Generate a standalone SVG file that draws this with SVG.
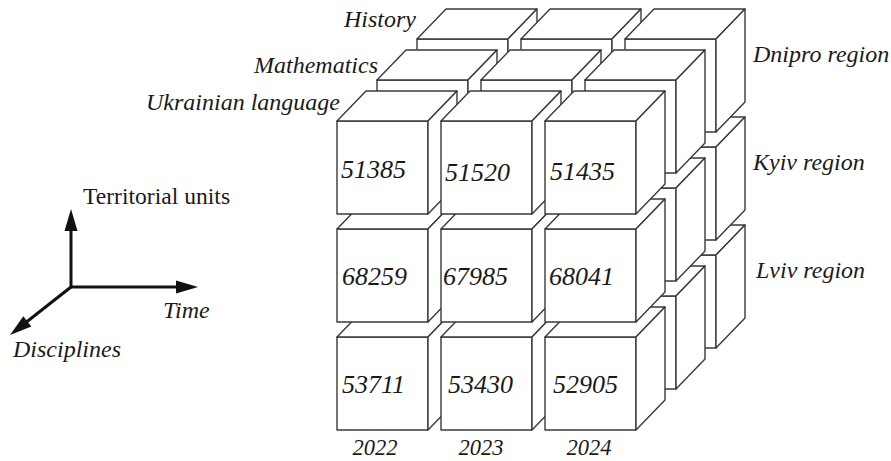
<svg xmlns="http://www.w3.org/2000/svg" xmlns:xlink="http://www.w3.org/1999/xlink" width="891" height="461" viewBox="0 0 891 461">
<style>
.face{fill:#ffffff;stroke:#3a3a3a;stroke-width:1.4;stroke-linejoin:round}
.lbl{font-family:'Liberation Serif','DejaVu Serif',serif;font-style:italic;font-size:24px;fill:#1a1a1a}
.yr{font-family:'Liberation Serif','DejaVu Serif',serif;font-style:italic;font-size:22.5px;fill:#1a1a1a}
.num{font-family:'Liberation Serif','DejaVu Serif',serif;font-style:italic;font-size:26px;fill:#1a1a1a}
.up{font-family:'Liberation Serif','DejaVu Serif',serif;font-size:23.6px;fill:#1a1a1a}
.axis{stroke:#111;stroke-width:3;fill:none}
</style>
<defs>
<g id="cube">
<rect class="face" x="0" y="0" width="91" height="93"/>
<polygon class="face" points="0,0 29,-30 120,-30 91,0"/>
<polygon class="face" points="91,0 120,-30 120,63 91,93"/>
</g>
<marker id="arr" markerUnits="userSpaceOnUse" markerWidth="30" markerHeight="20" viewBox="-2 -10 30 20" refX="12" refY="0" orient="auto">
<path d="M0,-6.5 L22,0 L0,6.5 Z" fill="#111"/>
</marker>
</defs>

<!-- History layer (L=2) -->
<g id="history-layer">
<g id="h-r3-c1"><use xlink:href="#cube" href="#cube" x="417" y="255"/></g>
<g id="h-r3-c2"><use xlink:href="#cube" href="#cube" x="521" y="255"/></g>
<g id="h-r3-c3"><use xlink:href="#cube" href="#cube" x="625" y="255"/></g>
<g id="h-r2-c1"><use xlink:href="#cube" href="#cube" x="417" y="147"/></g>
<g id="h-r2-c2"><use xlink:href="#cube" href="#cube" x="521" y="147"/></g>
<g id="h-r2-c3"><use xlink:href="#cube" href="#cube" x="625" y="147"/></g>
<g id="h-r1-c1"><use xlink:href="#cube" href="#cube" x="417" y="39"/></g>
<g id="h-r1-c2"><use xlink:href="#cube" href="#cube" x="521" y="39"/></g>
<g id="h-r1-c3"><use xlink:href="#cube" href="#cube" x="625" y="39"/></g>
</g>

<!-- Mathematics layer (L=1) -->
<g id="math-layer">
<g id="m-r3-c1"><use xlink:href="#cube" href="#cube" x="377" y="296"/></g>
<g id="m-r3-c2"><use xlink:href="#cube" href="#cube" x="481" y="296"/></g>
<g id="m-r3-c3"><use xlink:href="#cube" href="#cube" x="585" y="296"/></g>
<g id="m-r2-c1"><use xlink:href="#cube" href="#cube" x="377" y="188"/></g>
<g id="m-r2-c2"><use xlink:href="#cube" href="#cube" x="481" y="188"/></g>
<g id="m-r2-c3"><use xlink:href="#cube" href="#cube" x="585" y="188"/></g>
<g id="m-r1-c1"><use xlink:href="#cube" href="#cube" x="377" y="80"/></g>
<g id="m-r1-c2"><use xlink:href="#cube" href="#cube" x="481" y="80"/></g>
<g id="m-r1-c3"><use xlink:href="#cube" href="#cube" x="585" y="80"/></g>
</g>

<!-- Ukrainian language layer (L=0) -->
<g id="ukr-layer">
<g id="u-lviv-2022"><use xlink:href="#cube" href="#cube" x="337" y="337"/><text class="num" x="342" y="393">53711</text></g>
<g id="u-lviv-2023"><use xlink:href="#cube" href="#cube" x="441" y="337"/><text class="num" x="448" y="393">53430</text></g>
<g id="u-lviv-2024"><use xlink:href="#cube" href="#cube" x="545" y="337"/><text class="num" x="553" y="393">52905</text></g>
<g id="u-kyiv-2022"><use xlink:href="#cube" href="#cube" x="337" y="229"/><text class="num" x="342" y="285">68259</text></g>
<g id="u-kyiv-2023"><use xlink:href="#cube" href="#cube" x="441" y="229"/><text class="num" x="443" y="285">67985</text></g>
<g id="u-kyiv-2024"><use xlink:href="#cube" href="#cube" x="545" y="229"/><text class="num" x="549" y="285">68041</text></g>
<g id="u-dnipro-2022"><use xlink:href="#cube" href="#cube" x="337" y="121"/><text class="num" x="341" y="178">51385</text></g>
<g id="u-dnipro-2023"><use xlink:href="#cube" href="#cube" x="441" y="121"/><text class="num" x="445" y="181">51520</text></g>
<g id="u-dnipro-2024"><use xlink:href="#cube" href="#cube" x="545" y="121"/><text class="num" x="550" y="180">51435</text></g>
</g>

<!-- Labels -->
<g id="labels">
<text class="lbl" x="416" y="27" text-anchor="end">History</text>
<text class="lbl" x="378" y="73" text-anchor="end">Mathematics</text>
<text class="lbl" x="340" y="110" text-anchor="end">Ukrainian language</text>
<text class="lbl" x="753" y="62">Dnipro region</text>
<text class="lbl" x="753" y="170">Kyiv region</text>
<text class="lbl" x="756" y="278">Lviv region</text>
<text class="yr" x="375" y="455" text-anchor="middle">2022</text>
<text class="yr" x="481" y="455" text-anchor="middle">2023</text>
<text class="yr" x="589" y="455" text-anchor="middle">2024</text>
</g>

<!-- Axes -->
<g id="connectors">
<line class="axis" x1="71" y1="287" x2="71" y2="219" marker-end="url(#arr)"/>
<line class="axis" x1="70" y1="287" x2="188" y2="287" marker-end="url(#arr)"/>
<line class="axis" x1="71" y1="287" x2="17.9" y2="328.8" marker-end="url(#arr)"/>
</g>
<g id="axis-labels">
<text class="up" x="83" y="204">Territorial units</text>
<text class="lbl" x="163" y="318">Time</text>
<text class="lbl" x="13" y="357">Disciplines</text>
</g>
</svg>
